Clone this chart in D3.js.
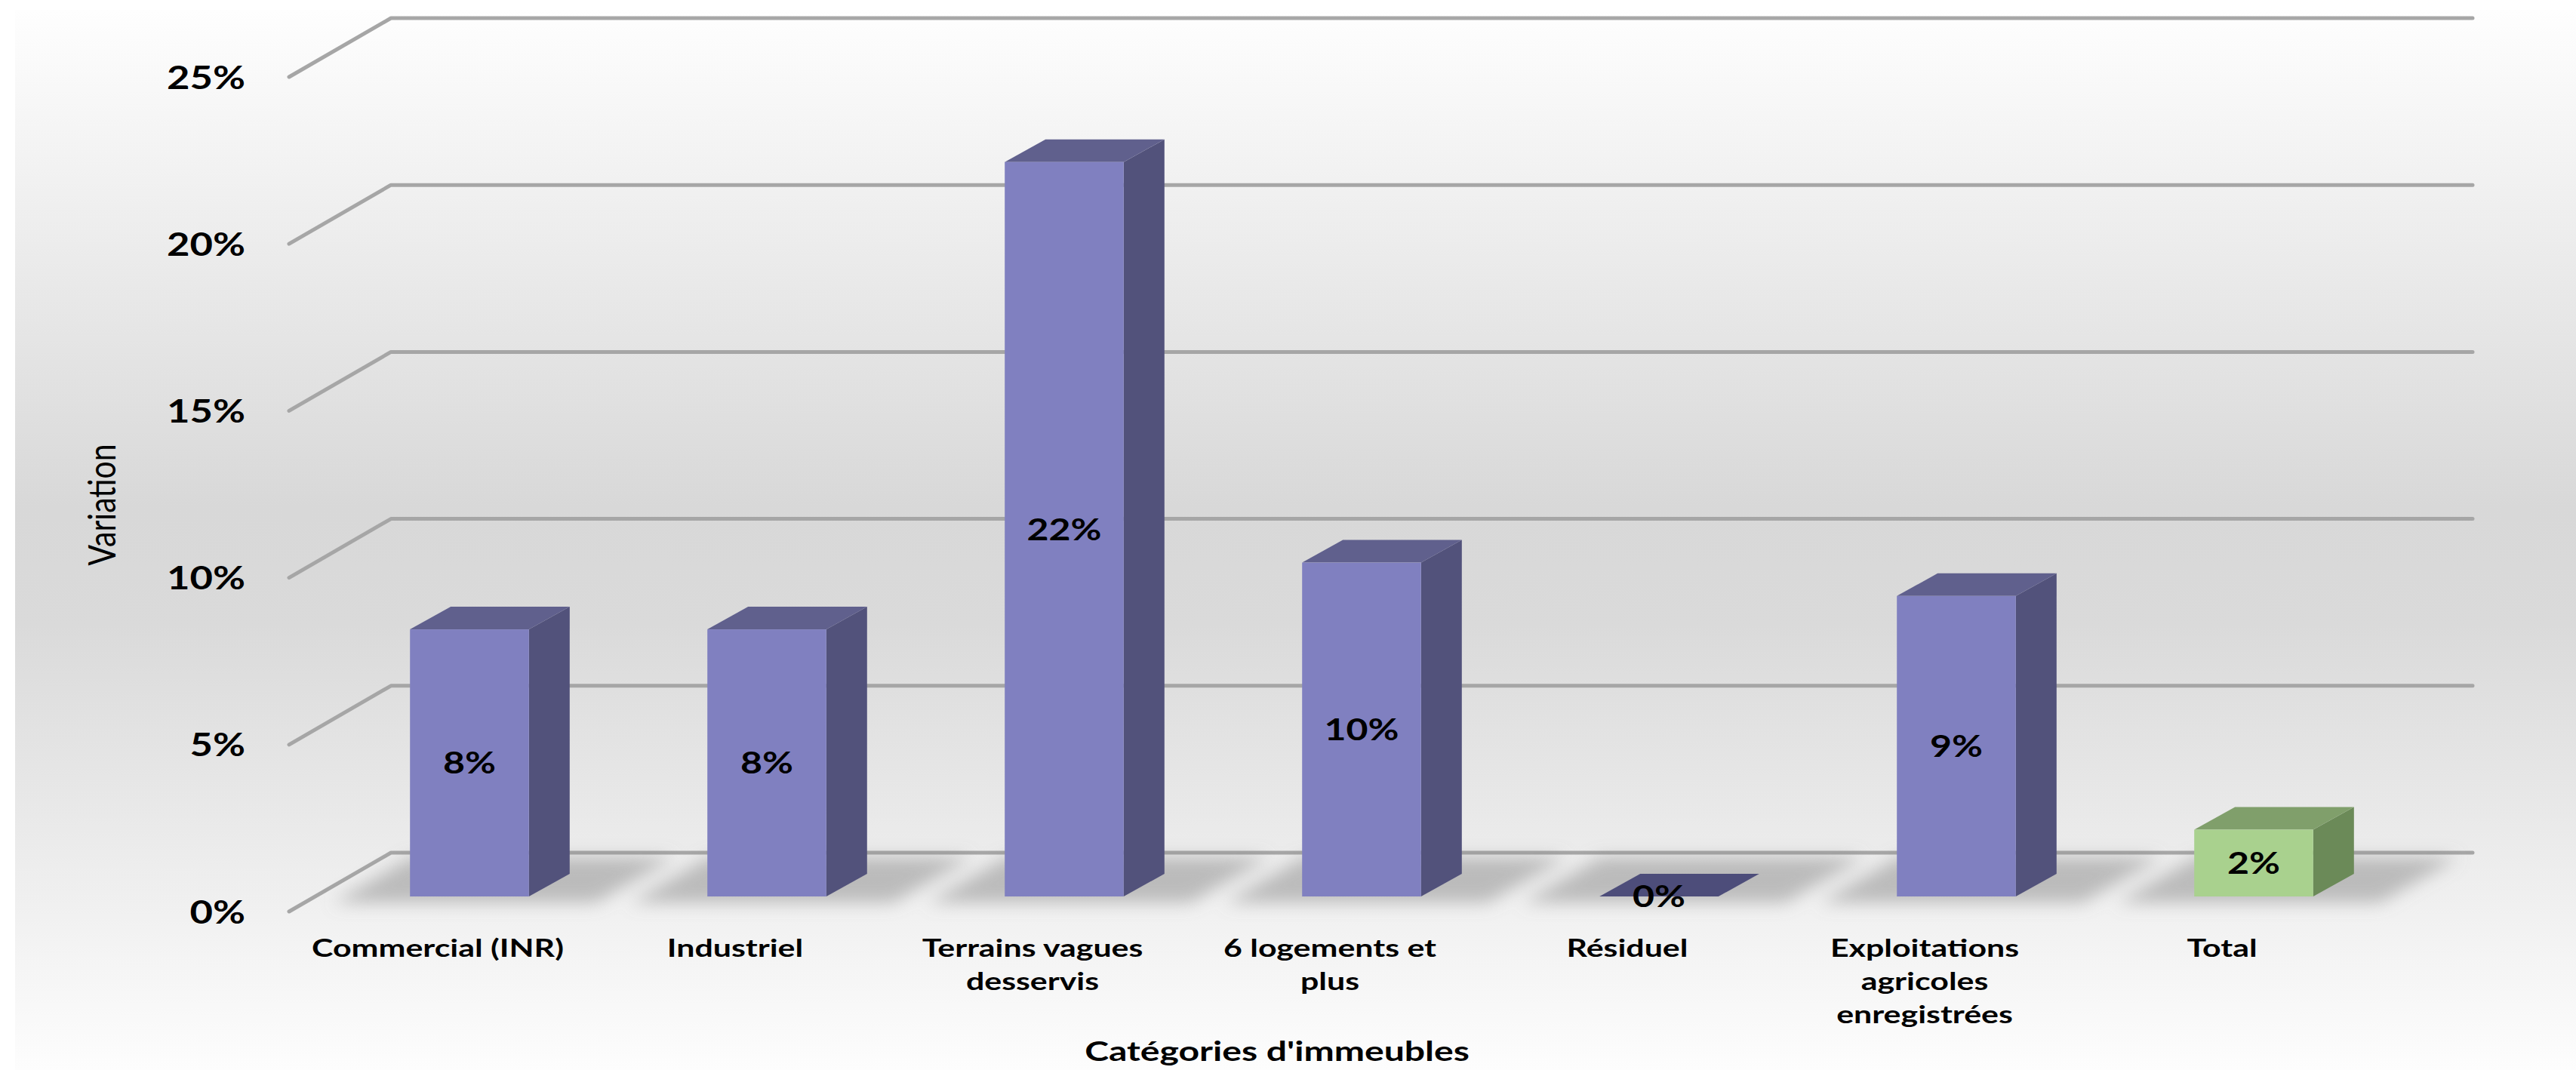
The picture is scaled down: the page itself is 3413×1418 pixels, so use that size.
<!DOCTYPE html>
<html>
<head>
<meta charset="utf-8">
<script src="https://cdn.jsdelivr.net/npm/d3@7"></script>
<style>
  html, body { margin: 0; padding: 0; background: #ffffff; }
  svg { display: block; }
</style>
</head>
<body>
<svg id="chart" width="3413" height="1418"></svg>
<script>
// ---- data ----
const categories = [
  "Commercial (INR)",
  "Industriel",
  "Terrains vagues desservis",
  "6 logements et plus",
  "Résiduel",
  "Exploitations agricoles enregistrées",
  "Total"
];
const categoryLines = [
  ["Commercial (INR)"],
  ["Industriel"],
  ["Terrains vagues", "desservis"],
  ["6 logements et", "plus"],
  ["Résiduel"],
  ["Exploitations", "agricoles", "enregistrées"],
  ["Total"]
];
const variation = [8, 8, 22, 10, 0, 9, 2];       // % change per category
const yTicks = [0, 5, 10, 15, 20, 25];
const yTickLabels = ["0%", "5%", "10%", "15%", "20%", "25%"];
const yTitle = "Variation";
const xTitle = "Catégories d'immeubles";

// ---- layout ----
const W = 3413, H = 1418;
const floorFront = { x0: 383, x1: 3141, y: 1208 };   // front edge of the floor
const wallDepth = { dx: 135, dy: -78 };               // front edge -> back wall
const barShift = { dx: 42, dy: -20 };                 // bar front faces relative to front edge
const barDepth = { dx: 54, dy: -30 };                 // depth of each 3D bar
const SX = 1.25;                                      // horizontal text stretch
const SX_CAT = 1.34;                                  // stretch for category labels
const FONT = "Lato, 'Open Sans', sans-serif";

const palette = {
  front: "#8080c0", top: "#60608d", side: "#52527b",
  totalFront: "#a9d18e", totalTop: "#809f6b", totalSide: "#6b8a58",
  grid: "#a6a6a6"
};

const svg = d3.select("#chart");
const defs = svg.append("defs");

// background panel gradient
const bg = defs.append("linearGradient").attr("id", "bgGrad")
  .attr("x1", 0).attr("y1", 0).attr("x2", 0).attr("y2", 1);
[[0, "#fefefe"], [0.47, "#d8d8d8"], [0.58, "#dadada"], [1, "#fdfdfd"]]
  .forEach(([o, c]) => bg.append("stop").attr("offset", o).attr("stop-color", c));

defs.append("filter").attr("id", "shadowBlur")
  .attr("x", "-30%").attr("y", "-100%").attr("width", "160%").attr("height", "300%")
  .append("feGaussianBlur").attr("stdDeviation", 11);

svg.append("rect").attr("x", 20).attr("y", 13)
  .attr("width", W - 20).attr("height", H - 13)
  .attr("fill", "url(#bgGrad)");

// ---- scales ----
const x = d3.scaleBand().domain(categories)
  .range([floorFront.x0, floorFront.x1]).paddingInner(0).paddingOuter(0);
const yFront = d3.scaleLinear().domain([0, 25]).range([floorFront.y, 102]);
const yBack = v => yFront(v) + wallDepth.dy;
const yBar = v => yFront(v) + barShift.dy;
const barW = x.bandwidth() * 0.4;
const barLeft = c => x(c) + x.bandwidth() / 2 - barW / 2 + barShift.dx;

// ---- gridlines (side wall diagonal + back wall) ----
const grid = svg.append("g").attr("fill", "none")
  .attr("stroke", palette.grid).attr("stroke-linejoin", "round").attr("stroke-linecap", "round");
grid.selectAll("path").data(yTicks).join("path")
  .attr("stroke-width", 5)
  .attr("d", t => {
    const p = d3.path();
    p.moveTo(floorFront.x0, yFront(t));
    p.lineTo(floorFront.x0 + wallDepth.dx, yBack(t));
    p.lineTo(floorFront.x1 + wallDepth.dx, yBack(t));
    return p.toString();
  });

// ---- soft floor shadows ----
const floorPt = (x0, f) => [x0 + f * wallDepth.dx, floorFront.y + f * wallDepth.dy];
svg.append("g").attr("filter", "url(#shadowBlur)")
  .selectAll("polygon").data(categories).join("polygon")
  .attr("fill", "#8a8a8a").attr("fill-opacity", 0.5)
  .attr("points", c => {
    const l = barLeft(c) - barShift.dx - 80;
    const r = barLeft(c) - barShift.dx + barW + 110;
    return [floorPt(l, 0.15), floorPt(r, 0.15), floorPt(r, 0.92), floorPt(l, 0.92)]
      .map(p => p.join(",")).join(" ");
  });

// ---- 3D bars ----
const bars = svg.append("g").selectAll("g").data(categories).join("g");
const isTotal = c => c === "Total";
bars.append("polygon") // side
  .attr("fill", c => isTotal(c) ? palette.totalSide : palette.side)
  .attr("points", (c, i) => {
    const xr = barLeft(c) + barW, yt = yBar(variation[i]), yb = yBar(0);
    return [[xr, yt], [xr + barDepth.dx, yt + barDepth.dy],
            [xr + barDepth.dx, yb + barDepth.dy], [xr, yb]].map(p => p.join(",")).join(" ");
  });
bars.append("polygon") // top
  .attr("fill", (c, i) => isTotal(c) ? palette.totalTop : (variation[i] === 0 ? "#4d4d7a" : palette.top))
  .attr("points", (c, i) => {
    const xl = barLeft(c), yt = yBar(variation[i]);
    return [[xl, yt], [xl + barDepth.dx, yt + barDepth.dy],
            [xl + barW + barDepth.dx, yt + barDepth.dy], [xl + barW, yt]].map(p => p.join(",")).join(" ");
  });
bars.append("rect") // front
  .attr("fill", c => isTotal(c) ? palette.totalFront : palette.front)
  .attr("x", c => barLeft(c))
  .attr("y", (c, i) => yBar(variation[i]))
  .attr("width", barW)
  .attr("height", (c, i) => yBar(0) - yBar(variation[i]));

// ---- data labels ----
svg.append("g").selectAll("text").data(categories).join("text")
  .attr("transform", (c, i) =>
    `translate(${barLeft(c) + barW / 2},${(yBar(variation[i]) + yBar(0)) / 2}) scale(${SX},1)`)
  .attr("text-anchor", "middle").attr("dy", "0.36em")
  .attr("font-family", FONT).attr("font-weight", 700).attr("font-size", 40)
  .attr("fill", "#000")
  .text((c, i) => variation[i] + "%");

// ---- y axis (tick labels on the side wall front edge) ----
const yPad = 58;
const yAxis = svg.append("g")
  .attr("transform", `translate(${floorFront.x0},0)`)
  .call(d3.axisLeft(yFront).tickValues(yTicks)
    .tickFormat((d, i) => yTickLabels[i]).tickSize(0).tickPadding(yPad));
yAxis.select(".domain").remove();
yAxis.selectAll("text")
  .attr("x", -yPad / SX).attr("dy", "0.36em")
  .attr("transform", `scale(${SX},1)`)
  .attr("font-family", FONT).attr("font-weight", 700).attr("font-size", 42)
  .attr("fill", "#000");

// ---- x axis (category labels) ----
const xAxis = svg.append("g")
  .attr("transform", `translate(0,${floorFront.y})`)
  .call(d3.axisBottom(x).tickSize(0).tickFormat(""));
xAxis.select(".domain").remove();
xAxis.selectAll(".tick text").remove();
xAxis.selectAll(".tick").each(function (c) {
  const lines = categoryLines[categories.indexOf(c)];
  const t = d3.select(this).append("text")
    .attr("transform", `scale(${SX_CAT},1)`)
    .attr("text-anchor", "middle")
    .attr("font-family", FONT).attr("font-weight", 700).attr("font-size", 32)
    .attr("fill", "#000");
  lines.forEach((s, k) => {
    t.append("tspan").attr("x", 0).attr("y", 48 + k * 44).attr("dy", "0.36em").text(s);
  });
});

// ---- axis titles ----
svg.append("text")
  .attr("transform", `translate(135,669) scale(${SX},1) rotate(-90)`)
  .attr("text-anchor", "middle").attr("dy", "0.36em")
  .attr("font-family", FONT).attr("font-weight", 400).attr("font-size", 41)
  .attr("fill", "#000")
  .text(yTitle);

svg.append("text")
  .attr("transform", `translate(1692,1393) scale(1.3,1)`)
  .attr("text-anchor", "middle").attr("dy", "0.36em")
  .attr("font-family", FONT).attr("font-weight", 700).attr("font-size", 37)
  .attr("fill", "#000")
  .text(xTitle);
</script>
</body>
</html>
